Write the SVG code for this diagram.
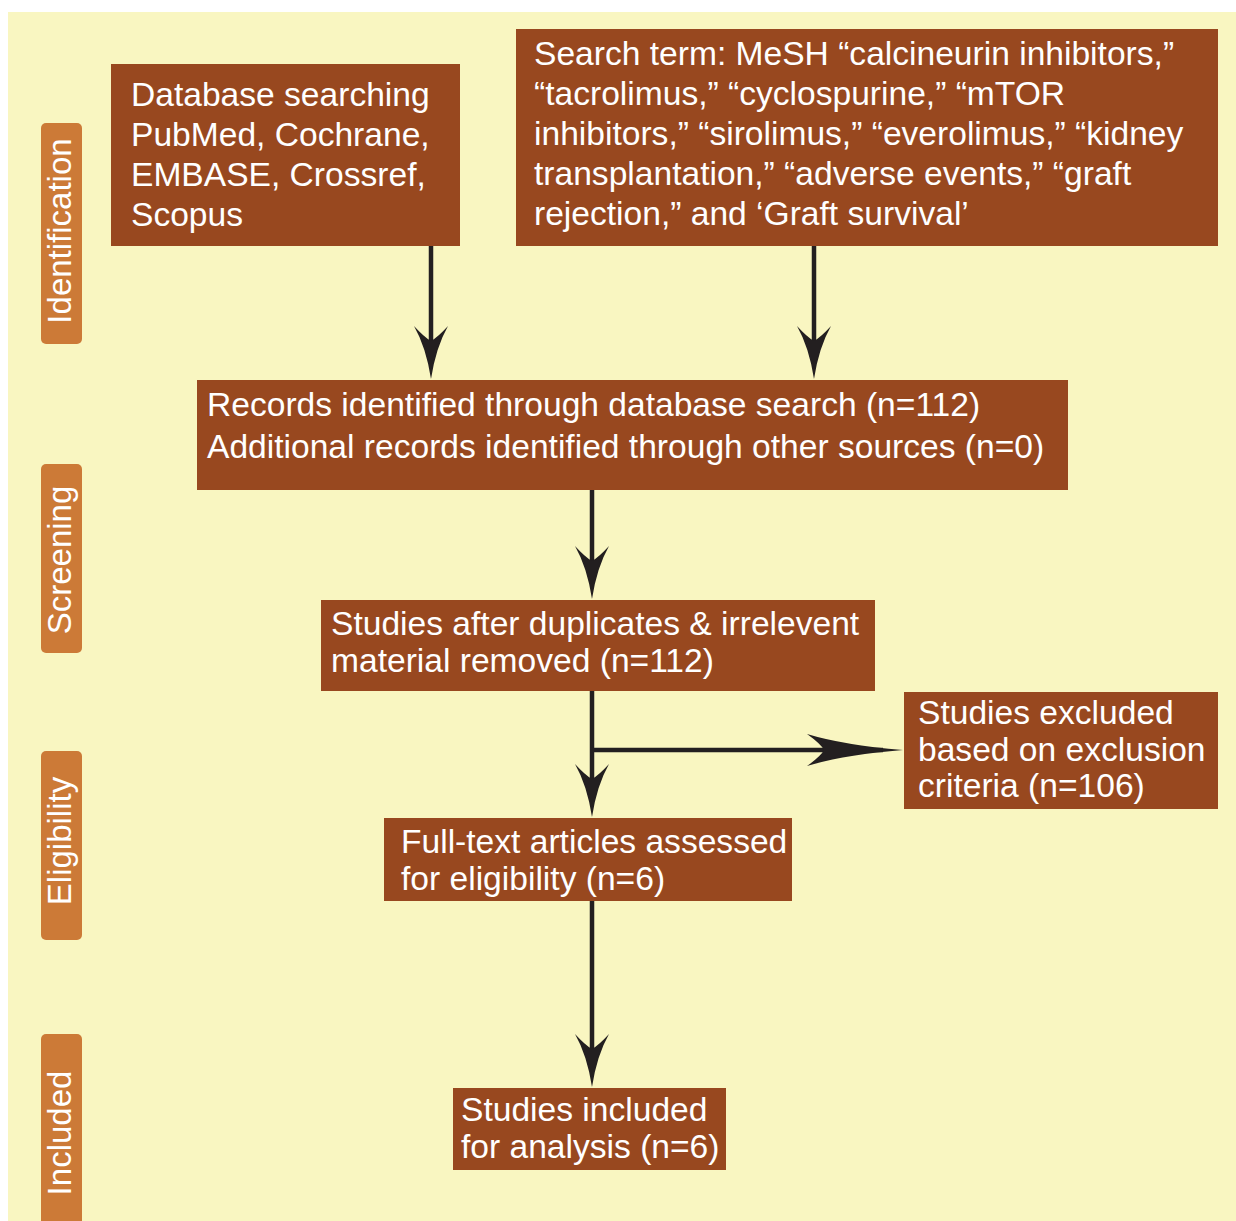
<svg xmlns="http://www.w3.org/2000/svg" width="1236" height="1221" viewBox="0 0 1236 1221">
<style>
.box{fill:#98481F}
.tab{fill:#CC7A37}
.t{font-family:"Liberation Sans",Arial,sans-serif;font-size:33.6px;fill:#FFFFFF}
.tl{font-family:"Liberation Sans",Arial,sans-serif;font-size:33px;fill:#FFFFFF;text-anchor:middle}
.ln{stroke:#231F20;stroke-width:4.5;fill:none}
</style>
<defs>
<marker id="hs" viewBox="-60 -20 62 40" refX="-20" refY="0" markerWidth="62" markerHeight="40" orient="auto" markerUnits="userSpaceOnUse">
<path d="M0,0 Q-32,-5 -53,-17 Q-42,-7 -38,0 Q-42,7 -53,17 Q-32,5 0,0 Z" fill="#231F20"/>
</marker>
<marker id="hl" viewBox="-100 -20 102 40" refX="-20" refY="0" markerWidth="102" markerHeight="40" orient="auto" markerUnits="userSpaceOnUse">
<path d="M0,0 Q-60,-5 -96,-16 Q-82,-6 -79,0 Q-82,6 -96,16 Q-60,5 0,0 Z" fill="#231F20"/>
</marker>
</defs>
<rect x="8" y="12" width="1228" height="1209" fill="#F9F6C1"/>

<g id="tab-identification"><rect class="tab" x="41" y="123" width="41" height="221" rx="5"/><text class="tl" transform="translate(71,231) rotate(-90)">Identification</text></g>
<g id="tab-screening"><rect class="tab" x="41" y="464" width="41" height="189" rx="5"/><text class="tl" transform="translate(71,560) rotate(-90)">Screening</text></g>
<g id="tab-eligibility"><rect class="tab" x="41" y="751" width="41" height="189" rx="5"/><text class="tl" transform="translate(71,841) rotate(-90)">Eligibility</text></g>
<g id="tab-included"><rect class="tab" x="41" y="1034" width="41" height="210" rx="5"/><text class="tl" transform="translate(71,1133) rotate(-90)">Included</text></g>

<g id="connectors">
<line class="ln" x1="431" y1="246" x2="431" y2="359" marker-end="url(#hs)"/>
<line class="ln" x1="814" y1="246" x2="814" y2="359" marker-end="url(#hs)"/>
<line class="ln" x1="592" y1="490" x2="592" y2="579" marker-end="url(#hs)"/>
<line class="ln" x1="592" y1="691" x2="592" y2="797" marker-end="url(#hs)"/>
<line class="ln" x1="590" y1="750" x2="883" y2="750" marker-end="url(#hl)"/>
<line class="ln" x1="592" y1="901" x2="592" y2="1067" marker-end="url(#hs)"/>
</g>

<g id="node-database">
<rect class="box" x="111" y="64" width="349" height="182"/>
<text class="t" x="131" y="106">Database searching</text>
<text class="t" x="131" y="146">PubMed, Cochrane,</text>
<text class="t" x="131" y="186">EMBASE, Crossref,</text>
<text class="t" x="131" y="226">Scopus</text>
</g>
<g id="node-search">
<rect class="box" x="516" y="29" width="702" height="217"/>
<text class="t" x="534" y="65">Search term: MeSH “calcineurin inhibitors,”</text>
<text class="t" x="534" y="105">“tacrolimus,” “cyclospurine,” “mTOR</text>
<text class="t" x="534" y="145">inhibitors,” “sirolimus,” “everolimus,” “kidney</text>
<text class="t" x="534" y="185">transplantation,” “adverse events,” “graft</text>
<text class="t" x="534" y="225">rejection,” and ‘Graft survival’</text>
</g>
<g id="node-records">
<rect class="box" x="197" y="380" width="871" height="110"/>
<text class="t" x="207" y="416">Records identified through database search (n=112)</text>
<text class="t" x="207" y="458">Additional records identified through other sources (n=0)</text>
</g>
<g id="node-duplicates">
<rect class="box" x="321" y="600" width="554" height="91"/>
<text class="t" x="331" y="635">Studies after duplicates &amp; irrelevent</text>
<text class="t" x="331" y="672">material removed (n=112)</text>
</g>
<g id="node-excluded">
<rect class="box" x="904" y="692" width="314" height="117"/>
<text class="t" x="918" y="724">Studies excluded</text>
<text class="t" x="918" y="761">based on exclusion</text>
<text class="t" x="918" y="797">criteria (n=106)</text>
</g>
<g id="node-fulltext">
<rect class="box" x="384" y="818" width="408" height="83"/>
<text class="t" x="401" y="853">Full-text articles assessed</text>
<text class="t" x="401" y="890">for eligibility (n=6)</text>
</g>
<g id="node-included">
<rect class="box" x="453" y="1088" width="273" height="82"/>
<text class="t" x="461" y="1121">Studies included</text>
<text class="t" x="461" y="1158">for analysis (n=6)</text>
</g>
</svg>
